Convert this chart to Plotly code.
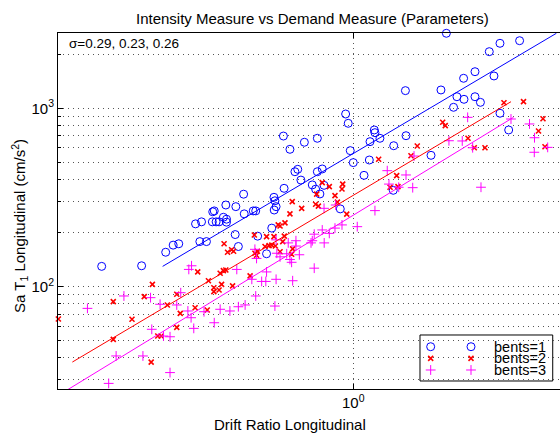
import numpy as np
import plotly.graph_objects as go

FONT = "Liberation Sans, Arial, Helvetica, sans-serif"

# ---------------- data ----------------
blue_drift = [0.145, 0.197, 0.237, 0.251, 0.262, 0.308, 0.324, 0.298, 0.312, 0.340,
              0.344, 0.339, 0.349, 0.357, 0.369, 0.378, 0.378, 0.376, 0.406, 0.431,
              0.433, 0.464, 0.473, 0.404, 0.414, 0.480, 0.514, 0.535, 0.544, 0.548,
              0.553, 0.545, 0.585, 0.687, 0.759, 0.615, 0.943, 0.962, 1.175, 1.181,
              1.227, 1.137, 1.499, 1.364, 0.977, 1.816, 1.000, 1.131, 0.639, 0.653,
              0.759, 0.788, 1.086, 0.669, 0.588, 0.730, 0.749, 0.799, 0.774, 0.905,
              1.359, 1.492, 1.960, 2.216, 2.339, 2.545, 2.653, 2.159, 3.083, 3.296,
              2.944, 2.545, 2.332, 2.840, 3.083, 3.584, 2.043, 5.000]
blue_sa = [130, 131, 156, 171, 174, 179, 179, 225, 231, 263,
           266, 231, 231, 231, 245, 239, 230, 287, 281, 330,
           256, 266, 266, 196, 168, 192, 153, 213, 317, 303,
           281, 269, 699, 645, 679, 589, 929, 824, 756, 730,
           679, 650, 702, 617, 579, 545, 496, 513, 441, 455,
           441, 457, 421, 396, 356, 372, 352, 370, 331, 273,
           347, 1256, 1267, 1161, 1123, 1161, 1080, 1013, 938, 756,
           1518, 1604, 1473, 2077, 2314, 2393, 2633, 1639]

red_drift = [0.104, 0.1585, 0.1585, 0.183, 0.201, 0.214, 0.212, 0.223, 0.229, 0.240,
             0.258, 0.258, 0.265, 0.297, 0.303, 0.326, 0.329, 0.343, 0.343, 0.357,
             0.364, 0.360, 0.369, 0.376, 0.396, 0.453, 0.371, 0.381, 0.393, 0.399,
             0.468, 0.476, 0.479, 0.470, 0.508, 0.514, 0.524, 0.535, 0.544, 0.550,
             0.562, 0.570, 0.592, 0.615, 0.626, 0.673, 0.755, 0.749, 0.765, 0.788,
             0.832, 0.869, 0.885, 0.922, 0.917, 0.951, 1.215, 1.395, 1.326, 1.409,
             1.557, 1.634, 1.986, 2.026, 2.412, 2.531, 2.748, 3.179, 3.693, 4.289,
             4.144, 4.355, 0.582, 0.570, 0.628, 0.623, 0.589]
red_sa = [65.9, 82.4, 50.7, 65.7, 87.9, 103, 37.8, 52.9, 52.9, 79.0,
          90.7, 59.2, 70.9, 76.2, 121, 74.0, 108, 98.7, 93.8, 95.8,
          103, 119, 123, 124, 101, 115, 174, 156, 161, 158,
          195, 150, 158, 154, 168, 191, 170, 171, 191, 169,
          222, 219, 228, 256, 300, 275, 330, 290, 283, 383,
          364, 324, 298, 376, 353, 255, 518, 419, 361, 364,
          542, 615, 835, 799, 679, 601, 601, 1075, 1089, 874,
          746, 609, 179, 157, 163, 152, 192]

mag_drift = [0.130, 0.172, 0.162, 0.153, 0.199, 0.208, 0.211, 0.213, 0.227, 0.233,
             0.245, 0.245, 0.258, 0.266, 0.281, 0.289, 0.283, 0.288, 0.294, 0.318,
             0.344, 0.360, 0.388, 0.409, 0.414, 0.436, 0.473, 0.459, 0.495, 0.511,
             0.514, 0.553, 0.548, 0.470, 0.476, 0.553, 0.556, 0.570, 0.607, 0.600,
             0.615, 0.644, 0.644, 0.661, 0.723, 0.730, 0.741, 0.788, 0.800, 0.832,
             0.869, 0.917, 0.874, 0.799, 1.031, 1.181, 1.298, 1.315, 1.417, 1.499,
             1.578, 1.594, 2.084, 2.308, 2.406, 2.500, 2.665, 3.355, 3.867, 4.018,
             4.012, 4.446, 0.623, 0.741, 0.628]
mag_sa = [75.6, 88.7, 40.9, 28.7, 40.9, 26.4, 86.8, 57.7, 79.7, 52.9,
          52.4, 33.0, 79.0, 92.5, 73.1, 131, 125, 67.0, 58.4, 72.4,
          62.8, 74.7, 73.1, 125, 77.2, 79.0, 88.7, 110, 107, 107,
          121, 110, 77.9, 162, 144, 183, 154, 147, 176, 153,
          142, 181, 169, 151, 176, 181, 197, 208, 176, 199,
          213, 222, 287, 275, 217, 267, 447, 376, 361, 423,
          359, 540, 658, 656, 890, 601, 361, 871, 817, 684,
          567, 604, 137, 127, 108]

# regression: log10(Sa) = intercept + slope * log10(drift)
fit_intercept = [2.7465, 2.5122, 2.4008]
fit_slope = [0.9955, 0.9982, 1.0275]

series_names = ["bents=1", "bents=2", "bents=3"]
sigma_text = "\u03c3=0.29, 0.23, 0.26"

x_limits = [0.1037, 4.887]
y_limits = [26.7, 2643]
y_major = [100, 1000]
y_minor = [30, 40, 50, 60, 70, 80, 90, 200, 300, 400, 500, 600, 700, 800, 900, 2000]

# ---------------- figure ----------------
fig = go.Figure()

groups = [
    (blue_drift, blue_sa, "#0000FF", dict(symbol="circle-open", size=8, line=dict(width=1, color="#0000FF"))),
    (red_drift, red_sa, "#FF0000", dict(symbol="x-thin", size=5, line=dict(width=1.6, color="#FF0000"))),
    (mag_drift, mag_sa, "#FF00FF", dict(symbol="cross-thin", size=7, line=dict(width=1, color="#FF00FF"))),
]

for i, (dx, sy, col, mk) in enumerate(groups):
    fig.add_trace(go.Scatter(x=dx, y=sy, mode="markers", marker=dict(color=col, **mk),
                             cliponaxis=False, showlegend=False, hoverinfo="skip"))
for i, (dx, sy, col, mk) in enumerate(groups):
    sa_line = np.array([min(sy), max(sy)], dtype=float)
    dr_line = 10 ** ((np.log10(sa_line) - fit_intercept[i]) / fit_slope[i])
    fig.add_trace(go.Scatter(x=dr_line, y=sa_line, mode="lines",
                             line=dict(color=col, width=1), showlegend=False, hoverinfo="skip"))

# custom MATLAB-style legend (two markers per entry) on an overlay axis in [0,1]
leg_rows = [0.1188, 0.0862, 0.0534]
leg_cols = [0.7424, 0.8227]
for i, (dx, sy, col, mk) in enumerate(groups):
    fig.add_trace(go.Scatter(x=leg_cols, y=[leg_rows[i]] * 2, mode="markers",
                             marker=dict(color=col, **mk), xaxis="x2", yaxis="y2",
                             cliponaxis=False, showlegend=False, hoverinfo="skip"))

GRIDCOL = "#555555"
GRIDDASH = "1px,4px"
grid = dict(showgrid=True, gridcolor=GRIDCOL, gridwidth=1, griddash=GRIDDASH)

fig.update_layout(
    width=560, height=435,
    margin=dict(l=58, r=0, t=33, b=46),
    paper_bgcolor="white", plot_bgcolor="white",
    showlegend=False,
    font=dict(family=FONT, size=15, color="black"),
    xaxis=dict(type="log", range=[np.log10(x_limits[0]), np.log10(x_limits[1])],
               tickmode="array", tickvals=[1], ticktext=["10<sup>0</sup>"],
               showline=True, linecolor="black", linewidth=1, mirror="ticks",
               ticks="inside", ticklen=5, tickcolor="black", zeroline=False,
               tickfont=dict(size=15, family=FONT, color="black"), **grid),
    yaxis=dict(type="log", range=[np.log10(y_limits[0]), np.log10(y_limits[1])],
               tickmode="array", tickvals=y_major,
               ticktext=["10<sup>%d</sup>" % int(round(np.log10(v))) for v in y_major],
               showline=True, linecolor="black", linewidth=1, mirror=False,
               ticks="inside", ticklen=5, tickcolor="black", zeroline=False,
               tickfont=dict(size=15, family=FONT, color="black"),
               minor=dict(tickmode="array", tickvals=y_minor, ticks="inside", ticklen=3,
                          tickcolor="black", showgrid=True, gridcolor=GRIDCOL,
                          gridwidth=1, griddash=GRIDDASH),
               **grid),
    xaxis2=dict(overlaying="x", range=[0, 1], visible=False, fixedrange=True),
    yaxis2=dict(overlaying="y", range=[0, 1], visible=False, fixedrange=True),
)

fig.add_shape(type="rect", xref="paper", yref="paper", x0=0.7211, x1=0.9855, y0=0.0225, y1=0.1517,
              line=dict(color="black", width=1), fillcolor="white", layer="between")

for i, name in enumerate(series_names):
    fig.add_annotation(text=name, xref="paper", yref="paper", x=0.9767, y=leg_rows[i],
                       xanchor="right", yanchor="middle", showarrow=False,
                       font=dict(size=14.5, family=FONT, color="black"))

fig.add_annotation(text=sigma_text, xref="paper", yref="paper", x=0.0173, y=0.9719,
                   xanchor="left", yanchor="middle", showarrow=False,
                   font=dict(size=13.5, family=FONT, color="black"))
fig.add_annotation(text="Intensity Measure vs Demand Measure (Parameters)", xref="paper", yref="paper",
                   x=0.507, y=1.042, xanchor="center", yanchor="middle", showarrow=False,
                   font=dict(size=15, family=FONT, color="black"))
fig.add_annotation(text="Drift Ratio Longitudinal", xref="paper", yref="paper",
                   x=0.4616, y=-0.1011, xanchor="center", yanchor="middle", showarrow=False,
                   font=dict(size=15, family=FONT, color="black"))
fig.add_annotation(text="Sa T<sub>1</sub> Longitudinal (cm/s<sup>2</sup>)", xref="paper", yref="paper",
                   x=-0.0757, y=0.4579, xanchor="center", yanchor="middle", textangle=-90,
                   showarrow=False, font=dict(size=15, family=FONT, color="black"))

fig.write_html("out.html", config={"displayModeBar": False},
               post_script="document.body.style.margin='0px';")
